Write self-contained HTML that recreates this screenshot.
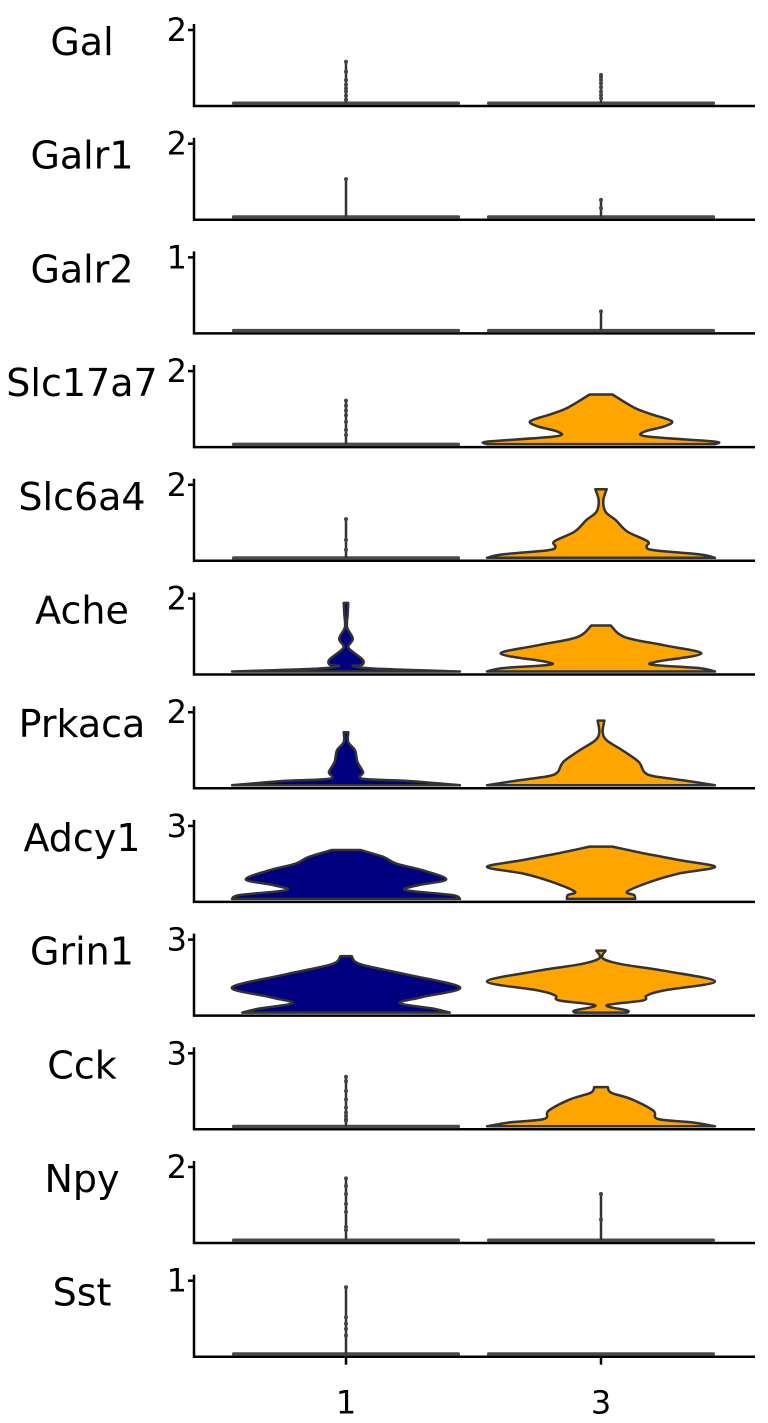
<!DOCTYPE html>
<html><head><meta charset="utf-8"><style>
html,body{margin:0;padding:0;background:#fff;}
svg{display:block;font-family:"DejaVu Sans","Liberation Sans",sans-serif;}
</style></head><body>
<svg id="chart" width="768" height="1423" viewBox="0 0 768 1423" xmlns="http://www.w3.org/2000/svg"></svg>
<script>
const genes = ["Gal","Galr1","Galr2","Slc17a7","Slc6a4","Ache","Prkaca","Adcy1","Grin1","Cck","Npy","Sst"];
const yTicks = [2,2,1,2,2,2,2,3,3,3,2,1];
const categories = ["1","3"];
const catColors = ["#000080","#FFA500"];
// violin density profiles: levels (expression value) and relative half-widths; null = all zero
const c1Levels = [null,null,null,null,null,
  [0,0.08,0.15,0.18,0.31,0.49,0.67,0.9,1.21,1.57,1.88],
  [0,0.12,0.18,0.36,0.64,0.95,1.18,1.45],
  [0,0.16,0.36,0.57,0.8,1.18,1.45,1.72,2.01],
  [0,0.16,0.39,0.64,1.04,1.58,1.99,2.32],
  null,null,null];
const c1Widths = [null,null,null,null,null,
  [1.0,0.25,0.06,0.14,0.15,0.08,0.02,0.06,0.01,0.015,0.02],
  [1.0,0.52,0.14,0.15,0.1,0.08,0.02,0.02],
  [1.0,0.93,0.52,0.64,0.88,0.67,0.44,0.33,0.125],
  [0.91,0.77,0.47,0.67,1.0,0.52,0.125,0.05],
  null,null,null];
const c3Levels = [null,null,null,
  [0,0.07,0.21,0.34,0.48,0.63,0.83,1.0,1.36],
  [0,0.09,0.21,0.31,0.45,0.72,1.03,1.26,1.57,1.88],
  [0,0.09,0.18,0.27,0.49,0.72,0.94,1.26],
  [0,0.14,0.25,0.36,0.64,0.95,1.23,1.45,1.77],
  [0,0.16,0.3,0.7,1.04,1.31,1.58,1.85,2.15],
  [0,0.09,0.3,0.5,0.7,0.91,1.28,1.72,1.99,2.23,2.55],
  [0,0.16,0.3,0.64,1.11,1.38,1.61],
  null,null];
const c3Widths = [null,null,null,
  [1.0,0.99,0.40,0.38,0.55,0.62,0.43,0.29,0.10],
  [1.0,0.87,0.46,0.40,0.41,0.23,0.13,0.04,0.02,0.05],
  [1.0,0.87,0.46,0.49,0.88,0.55,0.21,0.085],
  [1.0,0.71,0.46,0.38,0.33,0.19,0.05,0.015,0.03],
  [0.30,0.29,0.23,0.43,0.68,1.0,0.71,0.4,0.1],
  [0.23,0.23,0.05,0.37,0.4,0.55,1.0,0.55,0.18,0.015,0.04],
  [1.0,0.8,0.5,0.46,0.27,0.09,0.06],
  null,null];
// strip-plot points (non-zero cells) for each category
const c1Strip = [[1.13,0.86,0.63,0.5,0.4,0.32,0.2,0.09],[1.03],[],
  [1.19,1.05,0.92,0.79,0.61,0.39,0.25],[1.06,0.49,0.22],[],[],[],[],
  [2.03,1.85,1.45,1.1,0.77,0.56,0.43,0.3,0.23],[1.69,1.48,1.26,0.99,0.77,0.36,0.27],[0.91,0.5,0.41,0.34,0.25]];
const c3Strip = [[0.77,0.71,0.63,0.54,0.43,0.31,0.22,0.13],[0.46,0.24],[0.26],[],[],[],[],[],[],[],[1.26,0.56],[]];

const NS="http://www.w3.org/2000/svg";
const svg=document.getElementById('chart');
const axisX=194, axisRight=755, firstBase=106, panelStep=113.7;
const catCenters=[346,601], halfW=114;
function xCat(i){return catCenters[i];}
function baseOf(p){return firstBase+p*panelStep;}
function yVal(p,v){return baseOf(p)-3-v*(73/yTicks[p]);}
function mk(tag,attrs,parent){const e=document.createElementNS(NS,tag);for(const k in attrs)e.setAttribute(k,attrs[k]);(parent||svg).appendChild(e);return e;}

function smoothSeg(pts){
  let d='';
  for(let i=0;i<pts.length-1;i++){
    const p0=pts[Math.max(0,i-1)],p1=pts[i],p2=pts[i+1],p3=pts[Math.min(pts.length-1,i+2)];
    const c1=[p1[0]+(p2[0]-p0[0])/6,p1[1]+(p2[1]-p0[1])/6];
    const c2=[p2[0]-(p3[0]-p1[0])/6,p2[1]-(p3[1]-p1[1])/6];
    d+='C'+c1[0].toFixed(1)+','+c1[1].toFixed(1)+' '+c2[0].toFixed(1)+','+c2[1].toFixed(1)+' '+p2[0].toFixed(1)+','+p2[1].toFixed(1);
  }
  return d;
}
function violinPath(p,ci,levels,widths){
  const cx=xCat(ci);
  let right=[],left=[];
  for(let k=0;k<levels.length;k++){
    const y=yVal(p,levels[k]);const w=widths[k]*halfW;
    right.push([cx+w,y]);left.push([cx-w,y]);
  }
  left.reverse();
  let d='M'+right[0][0].toFixed(1)+','+right[0][1].toFixed(1)+smoothSeg(right);
  d+='L'+left[0][0].toFixed(1)+','+left[0][1].toFixed(1)+smoothSeg(left)+'Z';
  return d;
}

for(let p=0;p<genes.length;p++){
  const g=mk('g',{});
  
  
  const base=baseOf(p);
  const lab=mk('text',{x:82,y:base-51,'text-anchor':'middle','font-size':38,fill:'#000'},g);
  lab.textContent=genes[p];
  
  
  const ya=mk('line',{x1:axisX,y1:base-82,x2:axisX,y2:base+1,stroke:'#000','stroke-width':2.5},g);
  
  
  const xa=mk('line',{x1:axisX-1,y1:base,x2:axisRight,y2:base,stroke:'#000','stroke-width':2.5},g);
  
  
  const ty=yVal(p,yTicks[p]);
  mk('line',{x1:axisX-6,y1:ty,x2:axisX,y2:ty,stroke:'#000','stroke-width':2.5},g);
  const tl=mk('text',{x:axisX-7,y:ty+11,'text-anchor':'end','font-size':32,fill:'#000'},g);
  tl.textContent=String(yTicks[p]);
  
  
  const L=[c1Levels[p],c3Levels[p]], W=[c1Widths[p],c3Widths[p]], S=[c1Strip[p],c3Strip[p]];
  for(let ci=0;ci<2;ci++){
    let v;
    if(L[ci]){
      v=mk('path',{d:violinPath(p,ci,L[ci],W[ci]),fill:catColors[ci],stroke:'#333','stroke-width':2.5,'stroke-linejoin':'round'},g);
    }else{
      const y=yVal(p,0);
      v=mk('rect',{x:xCat(ci)-halfW,y:y-1.5,width:2*halfW,height:3.5,fill:'#4a4a4a',rx:1.5},g);
    }
    
    
    const pts=S[ci];
    if(pts.length){
      const mx=Math.max.apply(null,pts);
      mk('line',{x1:xCat(ci),y1:yVal(p,0),x2:xCat(ci),y2:yVal(p,mx),stroke:'#333','stroke-width':2.5},g);
      for(const val of pts){
        const c=mk('circle',{cx:xCat(ci),cy:yVal(p,val),r:2,fill:'#444'},g);
        
        
      }
    }
  }
}
const lastBase=baseOf(genes.length-1);
for(let ci=0;ci<categories.length;ci++){
  mk('line',{x1:xCat(ci),y1:lastBase,x2:xCat(ci),y2:lastBase+8,stroke:'#000','stroke-width':2.5});
  const t=mk('text',{x:xCat(ci),y:lastBase+57,'text-anchor':'middle','font-size':32,fill:'#000'});
  t.textContent=categories[ci];
  
  
}
</script>
</body></html>
